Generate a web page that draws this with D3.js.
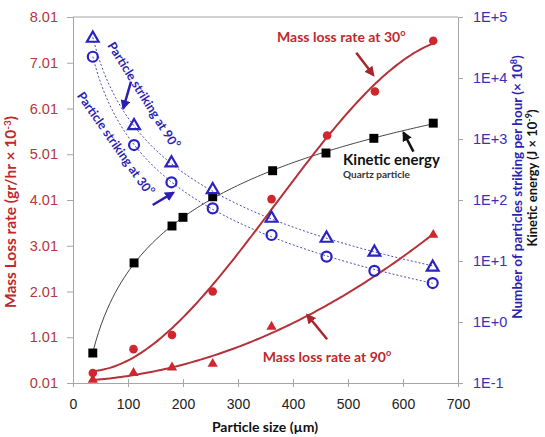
<!DOCTYPE html>
<html>
<head>
<meta charset="utf-8">
<script src="https://cdn.jsdelivr.net/npm/d3@7"></script>
<style>
  body { margin: 0; background: #fff; }
  svg { font-family: Lato, "Open Sans", sans-serif; }
</style>
</head>
<body>
<svg id="chart" width="545" height="437"></svg>
<script>
// values
var sizes30 = [36, 110, 180, 254, 361, 462, 549, 655];
var massLoss30 = [0.23, 0.75, 1.06, 2.01, 4.03, 5.42, 6.38, 7.49];
var sizes90 = [36, 110, 180, 254, 361, 655];
var massLoss90 = [0.08, 0.23, 0.35, 0.43, 1.24, 3.25];
var sizesStrike = [36, 111, 179, 254, 361, 461, 548, 654];
var strike90 = [44700, 1650, 404, 147, 50, 23.5, 13.9, 7.9];
var strike30 = [22300, 796, 195, 73, 26.7, 11.8, 6.9, 4.35];
var sizesKE = [36, 111, 180, 200, 254, 363, 460, 547, 655];
var kinetic = [0.31, 9.3, 37.5, 52, 113, 302, 589, 1026, 1820];

var xTicks = [0, 100, 200, 300, 400, 500, 600, 700];
var leftTicks = [0.01, 1.01, 2.01, 3.01, 4.01, 5.01, 6.01, 7.01, 8.01];
var rightTicks = [0.1, 1, 10, 100, 1000, 10000, 100000];
var rightTickLabels = ["1E-1", "1E+0", "1E+1", "1E+2", "1E+3", "1E+4", "1E+5"];

var red = "#c0282d", redLine = "#b5323a", blue = "#2b22c4", blueText = "#2d1fb0";

var svg = d3.select("#chart");
var plotLeft = 73, plotRight = 458, plotTop = 17, plotBottom = 383;

var x = d3.scaleLinear().domain([0, 700]).range([plotLeft, plotRight]);
var yL = d3.scaleLinear().domain([0.01, 8.01]).range([plotBottom, plotTop]);
var yR = d3.scaleLog().domain([0.1, 100000]).range([plotBottom, plotTop]);

// trend lines like a spreadsheet would draw them
function polyFit(xs, ys, deg) {
  var n = deg + 1, A = [], b = [];
  for (var i = 0; i < n; i++) { A.push(new Array(n).fill(0)); b.push(0); }
  xs.forEach(function(xv, k) {
    var t = xv / 1000;
    for (var i = 0; i < n; i++) {
      b[i] += ys[k] * Math.pow(t, i);
      for (var j = 0; j < n; j++) A[i][j] += Math.pow(t, i + j);
    }
  });
  for (var c = 0; c < n; c++) {
    for (var r = c + 1; r < n; r++) {
      var f = A[r][c] / A[c][c];
      for (var j = c; j < n; j++) A[r][j] -= f * A[c][j];
      b[r] -= f * b[c];
    }
  }
  var coef = new Array(n).fill(0);
  for (var r = n - 1; r >= 0; r--) {
    var s = b[r];
    for (var j = r + 1; j < n; j++) s -= A[r][j] * coef[j];
    coef[r] = s / A[r][r];
  }
  return function(xv) {
    var t = xv / 1000, s = 0;
    for (var i = 0; i < n; i++) s += coef[i] * Math.pow(t, i);
    return s;
  };
}
function powerFit(xs, ys) {
  var lx = xs.map(Math.log), ly = ys.map(Math.log);
  var mx = d3.mean(lx), my = d3.mean(ly);
  var sxy = d3.sum(lx, function(v, i) { return (v - mx) * (ly[i] - my); });
  var sxx = d3.sum(lx, function(v) { return (v - mx) * (v - mx); });
  var bb = sxy / sxx, a = my - bb * mx;
  return function(xv) { return Math.exp(a + bb * Math.log(xv)); };
}
function samples(xs) {
  var lo = d3.min(xs), hi = d3.max(xs);
  return d3.range(0, 121).map(function(i) { return lo + (hi - lo) * i / 120; });
}
function trend(xs, fn, yScale) {
  return d3.line()
    .x(function(d) { return x(d); })
    .y(function(d) { return yScale(fn(d)); })(samples(xs));
}

// arrowheads
var defs = svg.append("defs");
[["arRed", "#a8262e"], ["arBlue", "#2a1fb0"], ["arBlack", "#111"]].forEach(function(m) {
  defs.append("marker").attr("id", m[0])
    .attr("viewBox", "0 0 10 10").attr("refX", 8).attr("refY", 5)
    .attr("markerWidth", 4).attr("markerHeight", 4).attr("orient", "auto")
    .append("path").attr("d", "M0,0L10,5L0,10Z").attr("fill", m[1]);
});

// frame
svg.append("line").attr("x1", plotLeft).attr("x2", plotRight).attr("y1", plotTop).attr("y2", plotTop)
  .attr("stroke", "#a6a6a6");

var xAxis = svg.append("g").attr("transform", "translate(0," + plotBottom + ")")
  .call(d3.axisBottom(x).tickValues(xTicks).tickSize(4).tickPadding(12).tickFormat(d3.format("d")));
xAxis.selectAll(".tick line").attr("y1", -4).attr("y2", 4);
xAxis.selectAll("text").attr("fill", "#222").style("font-size", "14px");

var lAxis = svg.append("g").attr("transform", "translate(" + plotLeft + ",0)")
  .call(d3.axisLeft(yL).tickValues(leftTicks).tickSize(6).tickPadding(9).tickFormat(d3.format(".2f")));
lAxis.selectAll("text").attr("fill", "#b5363b").style("font-size", "14.5px");

var rAxis = svg.append("g").attr("transform", "translate(" + plotRight + ",0)")
  .call(d3.axisRight(yR).tickValues(rightTicks).tickSize(5).tickPadding(10)
    .tickFormat(function(d) { return rightTickLabels[rightTicks.indexOf(d)]; }));
rAxis.selectAll("text").attr("fill", "#3a2fb5").style("font-size", "14.5px");

svg.selectAll(".domain, .tick line").attr("stroke", "#a6a6a6");

// axis titles
svg.append("text").attr("x", 265).attr("y", 432).attr("text-anchor", "middle")
  .attr("font-weight", "bold").style("font-size", "14px").attr("fill", "#111")
  .text("Particle size (µm)");

var lt = svg.append("text").attr("transform", "translate(16,212) rotate(-90)")
  .attr("text-anchor", "middle").attr("font-weight", "bold").style("font-size", "15.5px")
  .attr("fill", red);
lt.append("tspan").text("Mass Loss rate (gr/hr × 10");
lt.append("tspan").attr("dy", -5).style("font-size", "10px").text("-3");
lt.append("tspan").attr("dy", 5).text(")");

var rt = svg.append("text").attr("transform", "translate(522,187) rotate(-90)")
  .attr("text-anchor", "middle").attr("font-weight", "bold").style("font-size", "13.5px")
  .attr("fill", blueText);
rt.append("tspan").text("Number of particles striking per hour (× 10");
rt.append("tspan").attr("dy", -5).style("font-size", "9px").text("8");
rt.append("tspan").attr("dy", 5).text(")");

var kt = svg.append("text").attr("transform", "translate(537,178) rotate(-90)")
  .attr("text-anchor", "middle").attr("font-weight", "bold").style("font-size", "13px")
  .attr("fill", "#111");
kt.append("tspan").text("Kinetic energy (J × 10");
kt.append("tspan").attr("dy", -5).style("font-size", "9px").text("-9");
kt.append("tspan").attr("dy", 5).text(")");

// lines
svg.append("path").attr("d", trend(sizesKE, powerFit(sizesKE, kinetic), yR))
  .attr("fill", "none").attr("stroke", "#444").attr("stroke-width", 1);
svg.append("path").attr("d", trend(sizesStrike, powerFit(sizesStrike, strike90), yR))
  .attr("fill", "none").attr("stroke", "#4848b0").attr("stroke-width", 1).attr("stroke-dasharray", "2,2");
svg.append("path").attr("d", trend(sizesStrike, powerFit(sizesStrike, strike30), yR))
  .attr("fill", "none").attr("stroke", "#4848b0").attr("stroke-width", 1).attr("stroke-dasharray", "2,2");
svg.append("path").attr("d", trend(sizes30, polyFit(sizes30, massLoss30, 3), yL))
  .attr("fill", "none").attr("stroke", redLine).attr("stroke-width", 2);
svg.append("path").attr("d", trend(sizes90, polyFit(sizes90, massLoss90, 2), yL))
  .attr("fill", "none").attr("stroke", redLine).attr("stroke-width", 2);

// markers
svg.append("g").selectAll("path").data(sizesKE).enter().append("path")
  .attr("transform", function(d, i) { return "translate(" + x(d) + "," + yR(kinetic[i]) + ")"; })
  .attr("d", d3.symbol().type(d3.symbolSquare).size(80)).attr("fill", "#000");

svg.append("g").selectAll("path").data(sizesStrike).enter().append("path")
  .attr("transform", function(d, i) { return "translate(" + x(d) + "," + yR(strike90[i]) + ")"; })
  .attr("d", d3.symbol().type(d3.symbolTriangle).size(60))
  .attr("fill", "none").attr("stroke", blue).attr("stroke-width", 2.2);

svg.append("g").selectAll("circle").data(sizesStrike).enter().append("circle")
  .attr("cx", function(d) { return x(d); })
  .attr("cy", function(d, i) { return yR(strike30[i]); })
  .attr("r", 5).attr("fill", "none").attr("stroke", blue).attr("stroke-width", 2.2);

svg.append("g").selectAll("circle").data(sizes30).enter().append("circle")
  .attr("cx", function(d) { return x(d); })
  .attr("cy", function(d, i) { return yL(massLoss30[i]); })
  .attr("r", 4.3).attr("fill", "#d0262e");

svg.append("g").selectAll("path").data(sizes90).enter().append("path")
  .attr("transform", function(d, i) { return "translate(" + x(d) + "," + yL(massLoss90[i]) + ")"; })
  .attr("d", d3.symbol().type(d3.symbolTriangle).size(45)).attr("fill", "#d0262e");

// annotations (positions given in chart units)
function label(txt, xv, yv, size, color, opts) {
  opts = opts || {};
  var t = svg.append("text").attr("font-weight", "bold").style("font-size", size + "px")
    .attr("fill", color);
  if (opts.rotate) {
    t.attr("transform", "translate(" + x(xv) + "," + yL(yv) + ") rotate(" + opts.rotate + ")")
      .attr("text-anchor", "middle").attr("dominant-baseline", "central");
  } else {
    t.attr("x", x(xv)).attr("y", yL(yv));
  }
  t.append("tspan").text(txt);
  if (opts.deg) {
    t.append("tspan").attr("dy", -size * 0.4).style("font-size", (size * 0.65) + "px").text("o");
  }
  return t;
}
function arrow(x1, y1, x2, y2, color, id) {
  svg.append("line").attr("x1", x(x1)).attr("y1", yL(y1)).attr("x2", x(x2)).attr("y2", yL(y2))
    .attr("stroke", color).attr("stroke-width", 2.5).attr("marker-end", "url(#" + id + ")");
}

label("Mass loss rate at 30", 371, 7.47, 14, red, { deg: true });
arrow(515, 7.23, 546, 6.74, "#a8262e", "arRed");
label("Mass loss rate at 90", 345, 0.47, 14, red, { deg: true });
arrow(462, 0.965, 426, 1.496, "#a8262e", "arRed");
label("Kinetic energy", 491, 4.775, 15, "#111");
label("Quartz particle", 491, 4.484, 10, "#333");
arrow(619, 5.066, 601, 5.481, "#111", "arBlack");
label("Particle striking at 90", 129, 6.305, 12.5, blueText, { rotate: 58, deg: true });
arrow(105.5, 6.596, 91.5, 6.015, "#2a1fb0", "arBlue");
label("Particle striking at 30", 77.8, 5.249, 12.5, blueText, { rotate: 55, deg: true });
arrow(144.9, 3.901, 182.4, 4.17, "#2a1fb0", "arBlue");
</script>
</body>
</html>
